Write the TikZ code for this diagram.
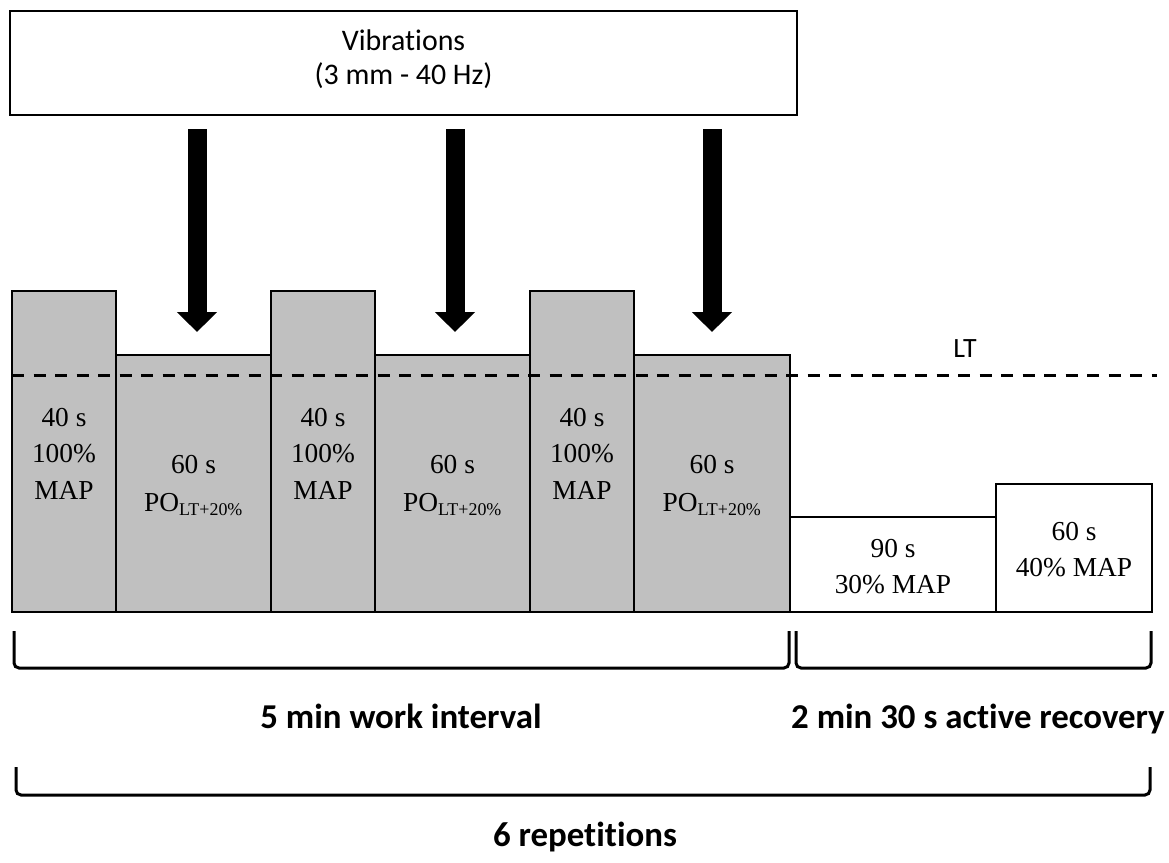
\documentclass[tikz,border=0pt]{standalone}
\usepackage{fontspec}
\setmainfont{Liberation Serif}
\newfontfamily\calfont[Ligatures=CommonOff]{Carlito}
\usetikzlibrary{arrows.meta}
\definecolor{bargray}{RGB}{192,192,192}
\tikzset{
  bar/.style={draw=black, fill=bargray, line width=1.5bp},
  wbar/.style={draw=black, fill=white, line width=1.5bp},
  bartxt/.style={anchor=base, inner sep=0pt, font=\fontsize{27.5}{33}\selectfont},
  labtxt/.style={anchor=base, inner sep=0pt, font=\calfont\bfseries\fontsize{35}{42}\selectfont},
  vibarrow/.style={line width=19bp, line cap=butt, -{Triangle[width=39bp,length=20bp]}},
  brace/.style={line width=3bp, rounded corners=5bp},
  ltline/.style={line width=3bp, dash pattern=on 12bp off 9.5bp},
}
\begin{document}
\begin{tikzpicture}[x=1bp, y=-1bp]
\useasboundingbox (0,0) rectangle (1169,863);
% vibration box
\node[draw, line width=2bp, minimum width=787bp, minimum height=103bp, inner sep=0pt] (vib) at (403.5,63) {};
\node[anchor=base, inner sep=0pt, font=\calfont\fontsize{30}{36}\selectfont] (vibt1) at (403.5,50) {Vibrations};
\node[anchor=base, inner sep=0pt, font=\calfont\fontsize{30}{36}\selectfont] (vibt2) at (403.5,84) {(3 mm - 40 Hz)};
% bars
\draw[bar] (12,291) rectangle (116,612);
\draw[bar] (116,355) rectangle (271,612);
\draw[bar] (271,291) rectangle (375,612);
\draw[bar] (375,355) rectangle (530,612);
\draw[bar] (530,291) rectangle (634,612);
\draw[bar] (634,355) rectangle (790,612);
\draw[wbar] (790,517) rectangle (996,612);
\draw[wbar] (996,484) rectangle (1152,612);
% LT line
\draw[ltline] (12,375) -- (1157,375);
\node[anchor=base, inner sep=0pt, font=\calfont\fontsize{28}{32}\selectfont] (lt) at (965,357) {LT};
% arrows
\foreach \c/\n in {197/a1,455/a2,712/a3}{
  \coordinate (\n s) at (\c,129);
  \coordinate (\n e) at (\c,332);
  \draw[vibarrow] (\n s) -- (\n e);
}
% bar texts
\foreach \c/\n in {64/b1,323/b3,582/b5}{
  \node[bartxt] (\n t1) at (\c,426) {40 s};
  \node[bartxt] (\n t2) at (\c,462.5) {100\%};
  \node[bartxt] (\n t3) at (\c,499) {MAP};
}
\foreach \c/\n in {193.5/b2,452.5/b4,712/b6}{
  \node[bartxt] (\n t1) at (\c,473.5) {60 s};
  \node[bartxt] (\n t2) at (\c,511.5) {PO\textsubscript{\fontsize{18}{20}\selectfont LT+20\%}};
}
\node[bartxt] (w1t1) at (893,557) {90 s};
\node[bartxt] (w1t2) at (893,593) {30\% MAP};
\node[bartxt] (w2t1) at (1074,540.5) {60 s};
\node[bartxt] (w2t2) at (1074,576.5) {40\% MAP};
% braces
\draw[brace] (14,631) -- (14,668) -- (789,668) -- (789,631);
\draw[brace] (796,631) -- (796,668) -- (1151,668) -- (1151,631);
\draw[brace] (16,767) -- (16,795) -- (1150,795) -- (1150,767);
% labels
\node[labtxt] (l1) at (401,728) {5 min work interval};
\node[labtxt] (l2) at (978,728) {2 min 30 s active recovery};
\node[labtxt] (l3) at (585,846) {6 repetitions};
\end{tikzpicture}
\end{document}
